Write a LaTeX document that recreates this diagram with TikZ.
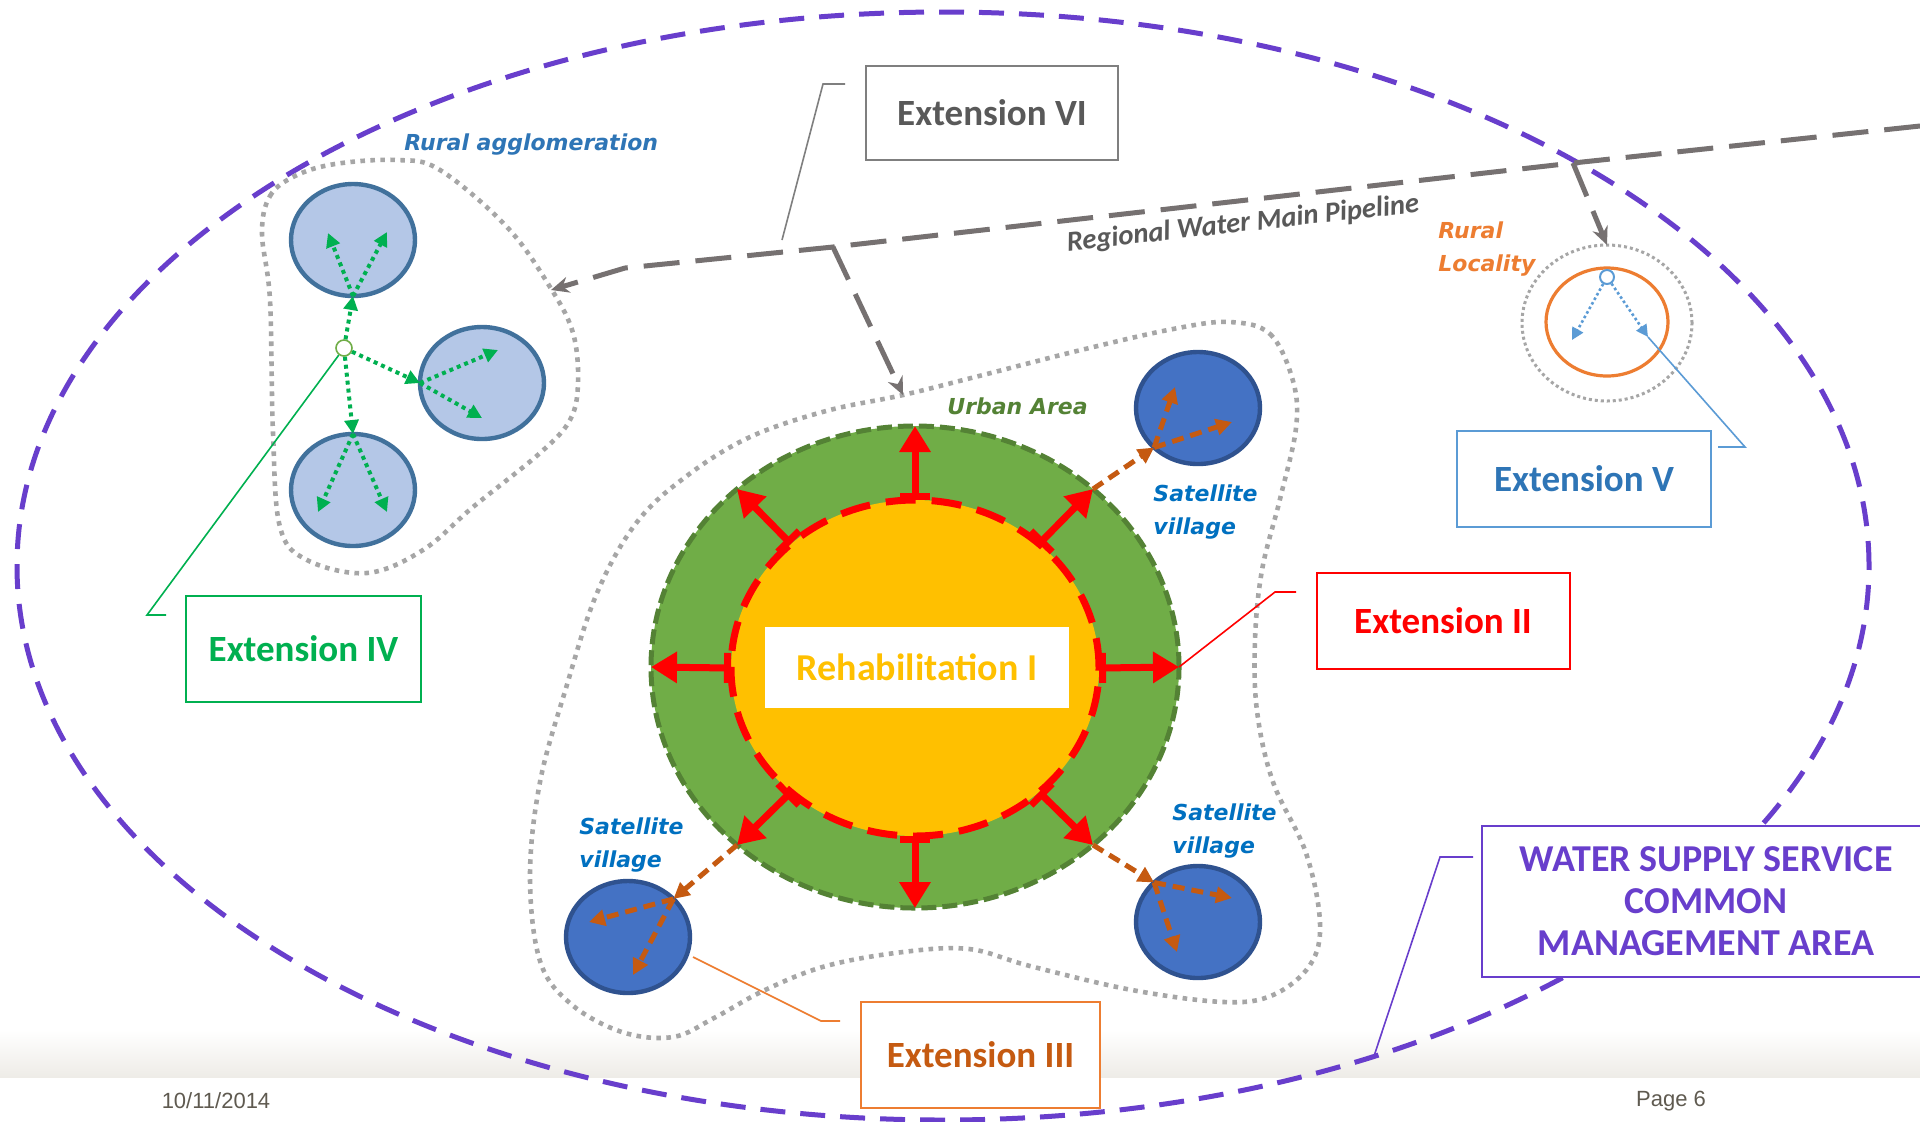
\documentclass[tikz,border=0pt]{standalone}
\usepackage{fontspec}
\setmainfont{Carlito}
\newfontfamily\tagfont{DejaVu Sans}
\newfontfamily\footfont{Liberation Sans}
\usetikzlibrary{arrows.meta,shapes.geometric}

\definecolor{areaviolet}{RGB}{104,62,204}
\definecolor{dotgray}{RGB}{166,166,166}
\definecolor{pipegray}{RGB}{118,113,113}
\definecolor{boxgray}{RGB}{127,127,127}
\definecolor{titlegray}{RGB}{89,89,89}
\definecolor{ruralfill}{RGB}{180,199,231}
\definecolor{ruraledge}{RGB}{65,113,156}
\definecolor{villfill}{RGB}{68,114,196}
\definecolor{villedge}{RGB}{47,82,143}
\definecolor{extgreen}{RGB}{0,176,80}
\definecolor{urbfill}{RGB}{112,173,71}
\definecolor{urbedge}{RGB}{84,130,53}
\definecolor{coreyellow}{RGB}{255,192,0}
\definecolor{extred}{RGB}{255,0,0}
\definecolor{extbrown}{RGB}{197,90,17}
\definecolor{locorange}{RGB}{237,125,49}
\definecolor{extblue}{RGB}{91,155,213}
\definecolor{ruraltext}{RGB}{46,117,182}
\definecolor{villtext}{RGB}{0,112,192}
\definecolor{footband}{RGB}{238,236,231}
\definecolor{foottext}{RGB}{95,90,80}

\begin{document}
\begin{tikzpicture}[x=0.5pt,y=-0.5pt,
  blob/.style={dotgray, line width=2.3pt, dash pattern=on 2.3pt off 2.7pt},
  town/.style={ellipse, draw=ruraledge, fill=ruralfill, line width=2.2pt, minimum width=62pt, minimum height=56pt, inner sep=0pt, outer sep=0pt},
  village/.style={town, draw=villedge, fill=villfill},
  greenflow/.style={extgreen, line width=2pt, dash pattern=on 2pt off 2pt, -{Triangle[length=7pt,width=7pt]}},
  brownflow/.style={extbrown, line width=2.5pt, dash pattern=on 6pt off 3.5pt, -{Triangle[length=8pt,width=8pt]}},
  blueflow/.style={extblue, line width=1.3pt, dash pattern=on 1.3pt off 1.3pt, -{Triangle[length=6pt,width=6pt]}},
  redflow/.style={extred, line width=3.5pt, {Bar[width=15pt]}-{Triangle[length=13pt,width=15pt]}},
  pipe/.style={pipegray, line width=2.5pt, dash pattern=on 18pt off 8pt},
  pipetip/.style={-{Stealth[length=9pt,width=8pt]}},
  extbox/.style={draw, line width=1pt, fill=white, inner sep=0pt, font=\fontsize{18.5}{22}\selectfont\bfseries},
  leader/.style={line width=0.8pt},
  tag/.style={font=\tagfont\fontsize{11}{16.5}\selectfont\bfseries\itshape, inner sep=0pt, align=left}
]

% 画布与页脚
\useasboundingbox (0,0) rectangle (1920,1121);
\fill[white] (0,0) rectangle (1920,1121);
\shade[top color=white, bottom color=footband] (0,1030) rectangle (1920,1077);
\node[font=\footfont\fontsize{11}{13}\selectfont, text=foottext] (date) at (216,1101) {10/11/2014};
\node[font=\footfont\fontsize{11}{13}\selectfont, text=foottext] (page) at (1671,1101) {Page 6};

% 共同管理区(紫色虚线椭圆)
\draw[areaviolet, line width=2.5pt, dash pattern=on 12.5pt off 7.5pt] (943,566) ellipse [x radius=463pt, y radius=277pt];

% 点线轮廓
\draw[blob] plot[smooth cycle, tension=0.6] coordinates {(262,233) (270,196) (295,176) (335,164) (397,160) (440,170) (507,227) (550,287) (573,333) (578,383) (570,420) (540,453) (473,507) (423,550) (367,573) (307,560) (280,527) (273,433) (270,300)};
\draw[blob] plot[smooth cycle, tension=0.6] coordinates {(1229,322) (1270,334) (1293,381) (1296,428) (1280,499) (1262,570) (1255,640) (1257,711) (1273,782) (1306,853) (1320,923) (1310,965) (1273,995) (1224,1002) (1132,990) (1030,966) (969,949) (903,952) (826,966) (765,990) (714,1018) (673,1037) (622,1032) (571,1004) (540,961) (530,876) (540,782) (566,688) (597,593) (637,522) (688,475) (750,437) (826,411) (903,395) (979,376) (1081,350) (1173,329)};

% 区域供水主管线
\coordinate (pipeE) at (1920,126);
\coordinate (pipeR) at (1573,163);
\coordinate (pipeM) at (833,247);
\coordinate (pipeL) at (625,268);
\coordinate (ruralin) at (551,290);
\coordinate (urbanin) at (903,395);
\node[ellipse, dotgray, draw, line width=1.5pt, dash pattern=on 1.5pt off 1.5pt, minimum width=85pt, minimum height=78pt, inner sep=0pt, outer sep=0pt] (localzone) at (1607,323) {};
\draw[pipe, pipetip] (pipeE) -- (pipeR) -- (pipeM) -- (pipeL) -- (ruralin);
\draw[pipe, pipetip] (pipeM) -- (urbanin);
\draw[pipe, pipetip] (pipeR) -- (localzone.north);
\node[font=\fontsize{14.3}{17}\selectfont\bfseries\itshape, text=titlegray, rotate=6.3] (pipelabel) at (1243,224) {Regional Water Main Pipeline};

% 农村聚居区
\node[town] (ruralA) at (353,240) {};
\node[town] (ruralB) at (482,383) {};
\node[town] (ruralC) at (353,490) {};
\node[circle, draw=urbfill, fill=white, line width=0.8pt, minimum size=8pt, inner sep=0pt] (hub) at (344,348) {};
\coordinate (a1) at (328,233); \coordinate (a2) at (387,232);
\coordinate (b1) at (498,350); \coordinate (b2) at (482,418);
\coordinate (c1) at (318,512); \coordinate (c2) at (387,512);
\draw[greenflow] (hub) -- (ruralA.south);
\draw[greenflow] (hub) -- (ruralB.west);
\draw[greenflow] (hub) -- (ruralC.north);
\foreach \t in {a1,a2} \draw[greenflow] (ruralA.south) -- (\t);
\foreach \t in {b1,b2} \draw[greenflow] (ruralB.west) -- (\t);
\foreach \t in {c1,c2} \draw[greenflow] (ruralC.north) -- (\t);
\node[tag, text=ruraltext, anchor=base west] (ruraltag) at (404,150) {Rural agglomeration};

% 城区与修复区
\node[ellipse, fill=urbfill, draw=urbedge, line width=2.5pt, dash pattern=on 7.5pt off 3pt, minimum width=264pt, minimum height=241pt, inner sep=0pt, outer sep=0pt] (urban) at (915,667) {};
\node[ellipse, fill=coreyellow, draw=extred, line width=3.5pt, dash pattern=on 15pt off 8pt, minimum width=184pt, minimum height=168pt, inner sep=0pt, outer sep=0pt] (core) at (915,668) {};
\foreach \a in {0,45,...,315} \draw[redflow] (core.\a) -- (urban.\a);
\node[fill=white, minimum width=152pt, minimum height=40.5pt, inner sep=0pt, text=coreyellow, font=\fontsize{19}{22}\selectfont\bfseries] (rehab) at (917,667) {Rehabilitation I};
\node[tag, text=urbedge, anchor=base west] (urbantag) at (947,414) {Urban Area};

% 卫星村
\node[village] (villNE) at (1198,408) {};
\node[village] (villSE) at (1198,922) {};
\node[village] (villSW) at (628,937) {};
\coordinate (ne1) at (1175,387); \coordinate (ne2) at (1232,422);
\coordinate (se1) at (1232,898); \coordinate (se2) at (1177,952);
\coordinate (sw1) at (589,922);  \coordinate (sw2) at (633,975);
\draw[brownflow] (urban.45) -- (villNE.222);
\draw[brownflow] (urban.315) -- (villSE.138);
\draw[brownflow] (urban.225) -- (villSW.40);
\foreach \t in {ne1,ne2} \draw[brownflow] (villNE.222) -- (\t);
\foreach \t in {se1,se2} \draw[brownflow] (villSE.138) -- (\t);
\foreach \t in {sw1,sw2} \draw[brownflow] (villSW.40) -- (\t);
\node[tag, text=villtext, anchor=base west] (tagNE) at (1153,534) {Satellite\\village}; % 基线取第二行
\node[tag, text=villtext, anchor=base west] (tagSE) at (1172,853) {Satellite\\village};
\node[tag, text=villtext, anchor=base west] (tagSW) at (579,867) {Satellite\\village};

% 农村居民点
\node[ellipse, draw=locorange, line width=1.6pt, minimum width=61pt, minimum height=54pt, inner sep=0pt] (locality) at (1607,322) {};
\node[circle, draw=extblue, fill=white, line width=1pt, minimum size=7pt, inner sep=0pt] (localhub) at (1607,277) {};
\coordinate (lc1) at (1572,340); \coordinate (lc2) at (1648,337);
\draw[blueflow] (localhub) -- (lc1);
\draw[blueflow] (localhub) -- (lc2);
\node[tag, text=locorange, anchor=base west] (localtag) at (1438,271) {Rural\\Locality};

% 标注框
\node[extbox, draw=boxgray, text=titlegray, minimum width=126pt, minimum height=47pt] (ext6) at (992,113) {Extension VI};
\node[extbox, draw=extgreen, text=extgreen, minimum width=117.5pt, minimum height=53pt] (ext4) at (303.5,649) {Extension IV};
\node[extbox, draw=extblue, text=ruraltext, minimum width=127pt, minimum height=48pt] (ext5) at (1584,479) {Extension V};
\node[extbox, draw=extred, text=extred, minimum width=126.5pt, minimum height=48pt] (ext2) at (1443,621) {Extension II};
\node[extbox, draw=locorange, text=extbrown, minimum width=119.5pt, minimum height=53pt] (ext3) at (980.5,1055) {Extension III};
\node[extbox, draw=areaviolet, text=areaviolet, minimum width=224pt, minimum height=75.5pt, align=center, font=\fontsize{19}{21}\selectfont\bfseries] (mgmt) at (1706,901.5) {WATER SUPPLY SERVICE\\COMMON\\MANAGEMENT AREA};

% 引线
\coordinate (ext6from) at (782,240); \coordinate (ext6knee) at (823,84); \coordinate (ext6tip) at (845,84);
\coordinate (ext4knee) at (147,615); \coordinate (ext4tip) at (166,615);
\coordinate (ext5knee) at (1745,447); \coordinate (ext5tip) at (1718,447);
\coordinate (ext2knee) at (1275,592); \coordinate (ext2tip) at (1296,592);
\coordinate (ext3from) at (693,957); \coordinate (ext3knee) at (821,1021); \coordinate (ext3tip) at (840,1021);
\coordinate (mgmttip) at (1473,857); \coordinate (mgmtknee) at (1440,857); \coordinate (mgmtfoot) at (1374,1056);
\draw[leader, boxgray] (ext6from) -- (ext6knee) -- (ext6tip);
\draw[leader, extgreen] (hub) -- (ext4knee) -- (ext4tip);
\draw[leader, extblue] (lc2) -- (ext5knee) -- (ext5tip);
\draw[leader, extred] (urban.east) -- (ext2knee) -- (ext2tip);
\draw[leader, locorange] (ext3from) -- (ext3knee) -- (ext3tip);
\draw[leader, areaviolet] (mgmttip) -- (mgmtknee) -- (mgmtfoot);

\end{tikzpicture}
\end{document}
